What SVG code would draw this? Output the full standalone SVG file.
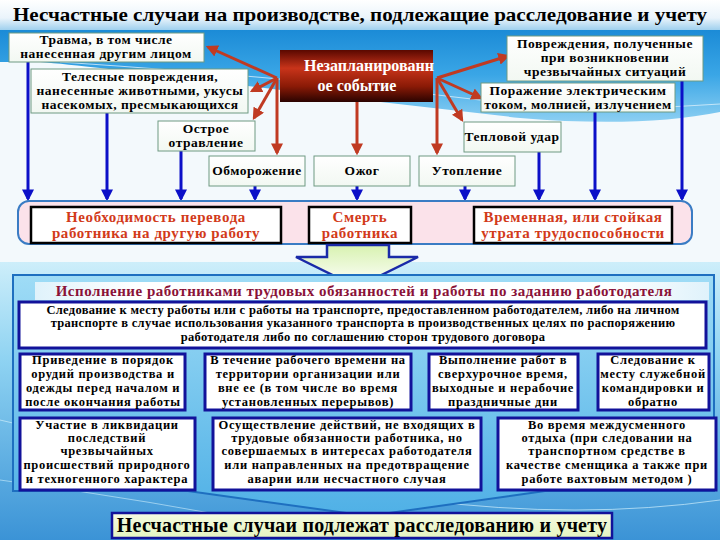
<svg xmlns="http://www.w3.org/2000/svg" width="720" height="540" viewBox="0 0 720 540">
<defs>
<style>
.t{font-weight:bold;text-anchor:middle;fill:#000}
.nt{font-size:13.5px;letter-spacing:0.5px}
.rt{font-size:15px;letter-spacing:0.6px;fill:#d23a1a}
.bt{font-size:12.5px;letter-spacing:0.7px}
.ct{font-size:12.5px;letter-spacing:0.3px}
.node{fill:url(#nodeG);stroke:#6f9a82;stroke-width:1}
.rbox{fill:#fff;stroke:#000;stroke-width:2.5}
.bbox{fill:#fff;stroke:#12129a;stroke-width:3}
.red{stroke:#c03a22;stroke-width:3;fill:none;marker-end:url(#ha)}
.blue{stroke:#0c10c8;stroke-width:3;fill:none;marker-end:url(#hb)}
</style>
<marker id="ha" viewBox="0 0 10 10" refX="8" refY="5" markerWidth="4" markerHeight="4" orient="auto" markerUnits="strokeWidth"><path d="M0,0 L10,5 L0,10 Z" fill="#c03a22"/></marker>
<marker id="hb" viewBox="0 0 10 10" refX="8" refY="5" markerWidth="4" markerHeight="4" orient="auto" markerUnits="strokeWidth"><path d="M0,0 L10,5 L0,10 Z" fill="#0c10c8"/></marker>
<linearGradient id="titleG" x1="0" y1="0" x2="0" y2="1"><stop offset="0" stop-color="#ffffff"/><stop offset="0.6" stop-color="#eaf4fb"/><stop offset="1" stop-color="#9fd0ee"/></linearGradient>
<linearGradient id="skyG" x1="0" y1="0" x2="0" y2="1"><stop offset="0" stop-color="#1a8ad6"/><stop offset="0.5" stop-color="#3aa6e6"/><stop offset="1" stop-color="#8ccff2"/></linearGradient>
<linearGradient id="botG" x1="0" y1="0" x2="0" y2="1"><stop offset="0" stop-color="#cdeefa"/><stop offset="0.35" stop-color="#8fd3f2"/><stop offset="1" stop-color="#3b93d6"/></linearGradient>
<linearGradient id="frameG" x1="0" y1="0" x2="0" y2="1"><stop offset="0" stop-color="#9fdcf6"/><stop offset="1" stop-color="#4fb0e6"/></linearGradient>
<linearGradient id="nodeG" x1="0" y1="0" x2="0" y2="1"><stop offset="0" stop-color="#ffffff"/><stop offset="1" stop-color="#f2f8f2"/></linearGradient>
<linearGradient id="evG" x1="0" y1="0" x2="0" y2="1"><stop offset="0" stop-color="#5a0800"/><stop offset="0.35" stop-color="#c8341a"/><stop offset="0.7" stop-color="#8a1a06"/><stop offset="1" stop-color="#2a0300"/></linearGradient>
<linearGradient id="arrG" x1="0" y1="0" x2="0" y2="1"><stop offset="0" stop-color="#d8f2b0"/><stop offset="1" stop-color="#ffffff"/></linearGradient>
<linearGradient id="hdrG" x1="0" y1="0" x2="1" y2="0"><stop offset="0" stop-color="#dff2fb"/><stop offset="0.15" stop-color="#ffffff"/><stop offset="0.85" stop-color="#ffffff"/><stop offset="1" stop-color="#dff2fb"/></linearGradient>
<linearGradient id="finG" x1="0" y1="0" x2="0" y2="1"><stop offset="0" stop-color="#f6fbe2"/><stop offset="1" stop-color="#e4f4c0"/></linearGradient>
</defs>

<g font-family="Liberation Serif">
<!-- background -->
<rect x="0" y="0" width="720" height="540" fill="#f3f9fc"/>
<path d="M0,28 L720,28 L720,112 Q640,128 520,118 Q360,100 200,80 Q90,66 40,62 L0,62 Z" fill="url(#skyG)"/>
<path d="M60,62 Q300,78 480,100 Q600,114 720,104" stroke="#d8eefa" stroke-width="1" fill="none" opacity="0.8"/>
<rect x="0" y="0" width="720" height="30" fill="url(#titleG)"/>
<rect x="0" y="262" width="720" height="278" fill="url(#botG)"/>
<path d="M0,420 Q200,470 420,500 Q580,520 720,500" stroke="#cfeefb" stroke-width="1" fill="none" opacity="0.7"/>
<path d="M0,480 Q150,500 300,530" stroke="#cfeefb" stroke-width="1" fill="none" opacity="0.6"/>

<text x="360" y="21" class="t" font-size="19" textLength="694" lengthAdjust="spacingAndGlyphs">Несчастные случаи на производстве, подлежащие расследование и учету</text>

<!-- connectors -->
<g id="connectors">
<path class="red" d="M277,78 L208,47"/>
<path class="red" d="M277,78 L252,91"/>
<path class="red" d="M277,78 L254,118"/>
<path class="red" d="M277,78 L277,153"/>
<path class="red" d="M357,102 L357,153"/>
<path class="red" d="M437,78 L437,153"/>
<path class="red" d="M437,78 L508,56"/>
<path class="red" d="M437,78 L481,98"/>
<path class="red" d="M437,78 L462,120"/>
<path class="blue" d="M28,62 L28,199"/>
<path class="blue" d="M107,113 L107,199"/>
<path class="blue" d="M181,151 L181,199"/>
<path class="blue" d="M255,186 L255,199"/>
<path class="blue" d="M357,186 L357,199"/>
<path class="blue" d="M465,186 L465,199"/>
<path class="blue" d="M539,152 L539,199"/>
<path class="blue" d="M595,112 L595,199"/>
<path class="blue" d="M682,81 L682,199"/>
</g>

<!-- top nodes -->
<g id="n-trauma"><rect class="node" x="9" y="33" width="195" height="29"/><text class="t nt" x="106" y="44">Травма, в том числе</text><text class="t nt" x="106" y="58">нанесенная другим лицом</text></g>
<g id="n-animals"><rect class="node" x="31" y="69" width="217" height="44"/><text class="t nt" x="140" y="81">Телесные повреждения,</text><text class="t nt" x="140" y="95">нанесенные животными, укусы</text><text class="t nt" x="140" y="109">насекомых, пресмыкающихся</text></g>
<g id="n-poison"><rect class="node" x="158" y="121" width="97" height="30"/><text class="t nt" x="206" y="133">Острое</text><text class="t nt" x="206" y="147">отравление</text></g>
<g id="n-frost"><rect class="node" x="209" y="156" width="96" height="30"/><text class="t nt" x="257" y="175">Обморожение</text></g>
<g id="n-burn"><rect class="node" x="314" y="156" width="96" height="30"/><text class="t nt" x="362" y="175">Ожог</text></g>
<g id="n-drown"><rect class="node" x="419" y="156" width="96" height="30"/><text class="t nt" x="467" y="175">Утопление</text></g>
<g id="n-heat"><rect class="node" x="464" y="122" width="97" height="30"/><text class="t nt" x="512" y="141">Тепловой удар</text></g>
<g id="n-electric"><rect class="node" x="481" y="83" width="194" height="29"/><text class="t nt" x="578" y="95">Поражение электрическим</text><text class="t nt" x="578" y="109">током, молнией, излучением</text></g>
<g id="n-emergency"><rect class="node" x="507" y="36" width="196" height="45"/><text class="t nt" x="605" y="48">Повреждения, полученные</text><text class="t nt" x="605" y="62">при возникновении</text><text class="t nt" x="605" y="76">чрезвычайных ситуаций</text></g>
<g id="n-event"><rect x="280" y="50" width="153" height="52" fill="url(#evG)"/><text class="t" x="369" y="71" font-size="16" style="fill:#fff">Незапланированн</text><text class="t" x="357" y="91" font-size="16" style="fill:#fff">ое событие</text></g>

<!-- consequences -->
<g id="consequences">
<rect x="18" y="201" width="674" height="43" rx="11" fill="#fbe2ea" stroke="#3a7cc4" stroke-width="2"/>
<g id="n-transfer"><rect class="rbox" x="31" y="207" width="250" height="36"/><text class="t rt" x="156" y="222">Необходимость перевода</text><text class="t rt" x="156" y="238">работника на другую работу</text></g>
<g id="n-death"><rect class="rbox" x="309" y="207" width="102" height="36"/><text class="t rt" x="360" y="222">Смерть</text><text class="t rt" x="360" y="238">работника</text></g>
<g id="n-disability"><rect class="rbox" x="474" y="207" width="198" height="36"/><text class="t rt" x="573" y="222">Временная, или стойкая</text><text class="t rt" x="573" y="238">утрата трудоспособности</text></g>
</g>

<!-- big hollow arrow -->
<path d="M327,245 L389,245 L389,257 L418,257 L357,287 L296,257 L327,257 Z" fill="url(#arrG)" stroke="#1a2aa8" stroke-width="2.5"/>

<!-- bottom frame -->
<g id="n-duties">
<path d="M13,275 L714,275 L714,491 L545,491 L368,516 L188,491 L13,491 Z" fill="url(#frameG)" stroke="#1e6fc0" stroke-width="2"/>
<rect x="35" y="282" width="674" height="18" fill="url(#hdrG)"/>
<text class="t" x="364" y="296" font-size="15" letter-spacing="0.5" style="fill:#8a1238">Исполнение работниками трудовых обязанностей и работы по заданию работодателя</text>
</g>
<g id="n-commute"><rect class="bbox" x="19" y="302" width="687" height="46"/>
<text class="t ct" x="363" y="314">Следование к месту работы или с работы на транспорте, предоставленном работодателем, либо на личном</text>
<text class="t ct" x="363" y="327">транспорте в случае использования указанного транспорта в производственных целях по распоряжению</text>
<text class="t ct" x="363" y="341">работодателя либо по соглашению сторон трудового договора</text></g>
<g id="n-tidy"><rect class="bbox" x="20" y="354" width="165" height="56"/>
<text class="t bt" x="103" y="364">Приведение в порядок</text><text class="t bt" x="103" y="378">орудий производства и</text><text class="t bt" x="103" y="392">одежды перед началом и</text><text class="t bt" x="103" y="406">после окончания работы</text></g>
<g id="n-worktime"><rect class="bbox" x="205" y="354" width="206" height="56"/>
<text class="t bt" x="308" y="364">В течение рабочего времени на</text><text class="t bt" x="308" y="378">территории организации или</text><text class="t bt" x="308" y="392">вне ее (в том числе во время</text><text class="t bt" x="308" y="406">установленных перерывов)</text></g>
<g id="n-overtime"><rect class="bbox" x="429" y="354" width="149" height="56"/>
<text class="t bt" x="503" y="364">Выполнение работ в</text><text class="t bt" x="503" y="378">сверхурочное время,</text><text class="t bt" x="503" y="392">выходные и нерабочие</text><text class="t bt" x="503" y="406">праздничные дни</text></g>
<g id="n-trip"><rect class="bbox" x="598" y="354" width="111" height="56"/>
<text class="t bt" x="653" y="364">Следование к</text><text class="t bt" x="653" y="378">месту служебной</text><text class="t bt" x="653" y="392">командировки и</text><text class="t bt" x="653" y="406">обратно</text></g>
<g id="n-liquidation"><rect class="bbox" x="20" y="418" width="175" height="72"/>
<text class="t bt" x="107" y="429">Участие в ликвидации</text><text class="t bt" x="107" y="442">последствий</text><text class="t bt" x="107" y="455">чрезвычайных</text><text class="t bt" x="107" y="469">происшествий природного</text><text class="t bt" x="107" y="483">и техногенного характера</text></g>
<g id="n-actions"><rect class="bbox" x="213" y="418" width="268" height="72"/>
<text class="t bt" x="347" y="429">Осуществление действий, не входящих в</text><text class="t bt" x="347" y="442">трудовые обязанности работника, но</text><text class="t bt" x="347" y="455">совершаемых в интересах работодателя</text><text class="t bt" x="347" y="469">или направленных на предотвращение</text><text class="t bt" x="347" y="483">аварии или несчастного случая</text></g>
<g id="n-rest"><rect class="bbox" x="498" y="418" width="218" height="72"/>
<text class="t bt" x="607" y="429">Во время междусменного</text><text class="t bt" x="607" y="442">отдыха (при следовании на</text><text class="t bt" x="607" y="455">транспортном средстве в</text><text class="t bt" x="607" y="469">качестве сменщика а также при</text><text class="t bt" x="607" y="483">работе вахтовым методом )</text></g>

<g id="n-final"><rect x="112" y="513" width="500" height="25" fill="url(#finG)" stroke="#12129a" stroke-width="2.5"/>
<text class="t" x="362" y="532" font-size="20" letter-spacing="0.2">Несчастные случаи подлежат расследованию и учету</text></g>
</g>
</svg>
